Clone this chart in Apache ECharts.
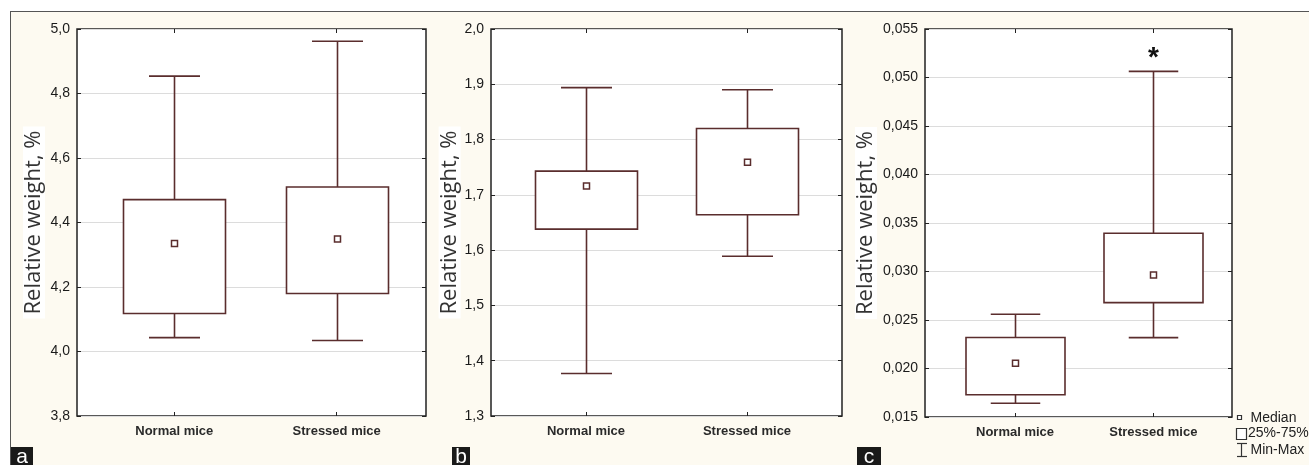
<!DOCTYPE html>
<html><head><meta charset="utf-8">
<script src="https://cdn.jsdelivr.net/npm/echarts@6/dist/echarts.min.js"></script>
<style>
html,body{margin:0;padding:0;background:#fff;}
#wrap{position:relative;width:1309px;height:465px;background:#fff;}
#bg{position:absolute;left:10px;top:11px;right:0;bottom:0;background:#fdfaf1;border-top:1px solid #555;border-left:1px solid #555;}
#c{position:absolute;left:0;top:0;width:1309px;height:465px;}
</style>
</head><body>
<div id="wrap"><div id="bg"></div><div id="c"></div></div>
<script>
// ---- data ----
const categories = ['Normal mice', 'Stressed mice'];
const yTitle = 'Relative weight, %';
// each row: [min, q1, median, q3, max]
const panelA = [[4.043, 4.118, 4.335, 4.471, 4.854], [4.034, 4.180, 4.349, 4.510, 4.962]];
const panelB = [[1.377, 1.638, 1.716, 1.743, 1.894], [1.589, 1.664, 1.759, 1.820, 1.890]];
const panelC = [[0.01641, 0.01730, 0.02054, 0.02320, 0.02559], [0.02318, 0.02679, 0.02964, 0.03394, 0.05063]];
const sigA = ['', ''];
const sigB = ['', ''];
const sigC = ['', '*'];
const yTicksA = [3.8, 4.0, 4.2, 4.4, 4.6, 4.8, 5.0];
const yTicksB = [1.3, 1.4, 1.5, 1.6, 1.7, 1.8, 1.9, 2.0];
const yTicksC = [0.015, 0.020, 0.025, 0.030, 0.035, 0.040, 0.045, 0.050, 0.055];
const panelLetters = ['a', 'b', 'c'];
const legendLabels = ['Median', '25%-75%', 'Min-Max'];

// ---- layout / style ----
const BOX = '#5a2d2d';
const FONT = 'Liberation Sans, Arial, sans-serif';
const panels = [
  { data: panelA, sig: sigA, ticks: yTicksA, dec: 1, grid: { left: 77, top: 29, width: 349, height: 387 }, xr: [-0.599, 1.55], nameGap: 32, boxW: 102 },
  { data: panelB, sig: sigB, ticks: yTicksB, dec: 1, grid: { left: 491, top: 29, width: 351, height: 387 }, xr: [-0.59, 1.59], nameGap: 27, boxW: 102 },
  { data: panelC, sig: sigC, ticks: yTicksC, dec: 3, grid: { left: 925, top: 29, width: 307, height: 388 }, xr: [-0.651, 1.569], nameGap: 48, boxW: 99 }
];
const catIdx = categories.map((_, i) => i);
const fmt = (v, d) => v.toFixed(d).replace('.', ',');
const tickStyle = { show: true, inside: true, length: 4, lineStyle: { color: '#222', width: 1 } };

const grids = [], xAxes = [], yAxes = [], series = [];
panels.forEach((p, k) => {
  grids.push(Object.assign({ show: true, backgroundColor: '#ffffff', borderColor: '#222', borderWidth: 1.5, containLabel: false }, p.grid));
  const ymin = p.ticks[0], ymax = p.ticks[p.ticks.length - 1];
  const step = Math.round((p.ticks[1] - p.ticks[0]) * 1e9) / 1e9;
  xAxes.push({
    gridIndex: k, type: 'value', min: p.xr[0], max: p.xr[1], position: 'bottom',
    axisLine: { show: false, onZero: false }, splitLine: { show: false },
    axisTick: Object.assign({ customValues: catIdx }, tickStyle),
    axisLabel: { customValues: catIdx, formatter: v => categories[Math.round(v)], margin: 9, fontSize: 13, fontWeight: 'bold', color: '#2a2a2a', fontFamily: FONT }
  });
  xAxes.push({
    gridIndex: k, type: 'value', min: p.xr[0], max: p.xr[1], position: 'top',
    axisLine: { show: false, onZero: false }, splitLine: { show: false },
    axisTick: Object.assign({ customValues: catIdx }, tickStyle),
    axisLabel: { show: false }
  });
  yAxes.push({
    gridIndex: k, type: 'value', min: ymin, max: ymax, interval: step, position: 'left',
    name: yTitle, nameLocation: 'middle', nameRotate: 90, nameGap: p.nameGap,
    nameTextStyle: { fontSize: 22, color: '#333', fontFamily: 'Open Sans, Liberation Sans, sans-serif', backgroundColor: '#fff', padding: [0, 4, 0, 4] },
    axisLine: { show: false, onZero: false },
    axisTick: tickStyle,
    splitLine: { show: true, lineStyle: { color: '#dcdcdc', width: 1 } },
    axisLabel: { formatter: v => fmt(v, p.dec), margin: 7, fontSize: 14, color: '#1a1a1a', fontFamily: FONT }
  });
  yAxes.push({
    gridIndex: k, type: 'value', min: ymin, max: ymax, interval: step, position: 'right',
    axisLine: { show: false, onZero: false }, splitLine: { show: false },
    axisTick: tickStyle,
    axisLabel: { show: false }
  });
  const boxW = p.boxW;
  series.push({
    type: 'custom',
    xAxisIndex: k * 2, yAxisIndex: k * 2,
    data: p.data.map((d, i) => [i].concat(d)),
    encode: { x: 0, y: [1, 2, 3, 4, 5] },
    z: 10,
    renderItem: function (params, api) {
      const x = api.value(0);
      const pMin = api.coord([x, api.value(1)]);
      const pQ1 = api.coord([x, api.value(2)]);
      const pMed = api.coord([x, api.value(3)]);
      const pQ3 = api.coord([x, api.value(4)]);
      const pMax = api.coord([x, api.value(5)]);
      const cx = Math.round(pMin[0]) + 0.5;
      const half = boxW / 2, cap = boxW / 4;
      const st = { stroke: BOX, lineWidth: 1.6, fill: null };
      const ch = [
        { type: 'line', shape: { x1: cx, y1: pMax[1], x2: cx, y2: pQ3[1] }, style: st },
        { type: 'line', shape: { x1: cx, y1: pQ1[1], x2: cx, y2: pMin[1] }, style: st },
        { type: 'line', shape: { x1: cx - cap, y1: pMax[1], x2: cx + cap, y2: pMax[1] }, style: st },
        { type: 'line', shape: { x1: cx - cap, y1: pMin[1], x2: cx + cap, y2: pMin[1] }, style: st },
        { type: 'rect', shape: { x: cx - half, y: pQ3[1], width: boxW, height: pQ1[1] - pQ3[1] }, style: { stroke: BOX, lineWidth: 1.6, fill: '#fff' } },
        { type: 'rect', shape: { x: cx - 3, y: pMed[1] - 3, width: 6, height: 6 }, style: { stroke: BOX, lineWidth: 1.5, fill: '#fff' } }
      ];
      const s = p.sig[params.dataIndex];
      if (s) {
        ch.push({ type: 'text', style: { text: s, x: cx, y: pMax[1] - 13, align: 'center', verticalAlign: 'middle', fontSize: 28, fontWeight: 'bold', fill: '#111', fontFamily: FONT } });
      }
      return { type: 'group', children: ch };
    }
  });
});

// panel letters + legend
const letterPos = [[11, 22], [452, 18], [857, 24]];
const graphic = [];
panelLetters.forEach((t, i) => {
  graphic.push({ type: 'rect', left: letterPos[i][0], top: 447, shape: { width: letterPos[i][1], height: 18 }, style: { fill: '#1a1a1a' } });
  graphic.push({ type: 'text', x: letterPos[i][0] + letterPos[i][1] / 2, y: 457, style: { text: t, fill: '#fff', fontSize: 21, fontFamily: FONT, align: 'center', verticalAlign: 'middle' } });
});
const LG = '#333';
graphic.push({ type: 'rect', shape: { x: 1237.5, y: 415.5, width: 4, height: 4 }, style: { stroke: LG, lineWidth: 1.2, fill: '#fff' } });
graphic.push({ type: 'rect', shape: { x: 1236.5, y: 428.5, width: 10, height: 11 }, style: { stroke: LG, lineWidth: 1.2, fill: '#fff' } });
graphic.push({ type: 'line', shape: { x1: 1241.5, y1: 443.5, x2: 1241.5, y2: 457 }, style: { stroke: LG, lineWidth: 1.2 } });
graphic.push({ type: 'line', shape: { x1: 1237, y1: 443.5, x2: 1247, y2: 443.5 }, style: { stroke: LG, lineWidth: 1.2 } });
graphic.push({ type: 'line', shape: { x1: 1237, y1: 456.5, x2: 1247, y2: 456.5 }, style: { stroke: LG, lineWidth: 1.2 } });
const legY = [418, 433.5, 450];
const legX = [1250.5, 1248, 1250.5];
legendLabels.forEach((t, i) => {
  graphic.push({ type: 'text', x: legX[i], y: legY[i], style: { text: t, fill: '#222', fontSize: 14, fontFamily: FONT, align: 'left', verticalAlign: 'middle' } });
});

const chart = echarts.init(document.getElementById('c'), null, { renderer: 'canvas' });
chart.setOption({
  backgroundColor: 'transparent',
  animation: false,
  grid: grids,
  xAxis: xAxes,
  yAxis: yAxes,
  series: series,
  graphic: graphic
});
</script>
</body></html>
